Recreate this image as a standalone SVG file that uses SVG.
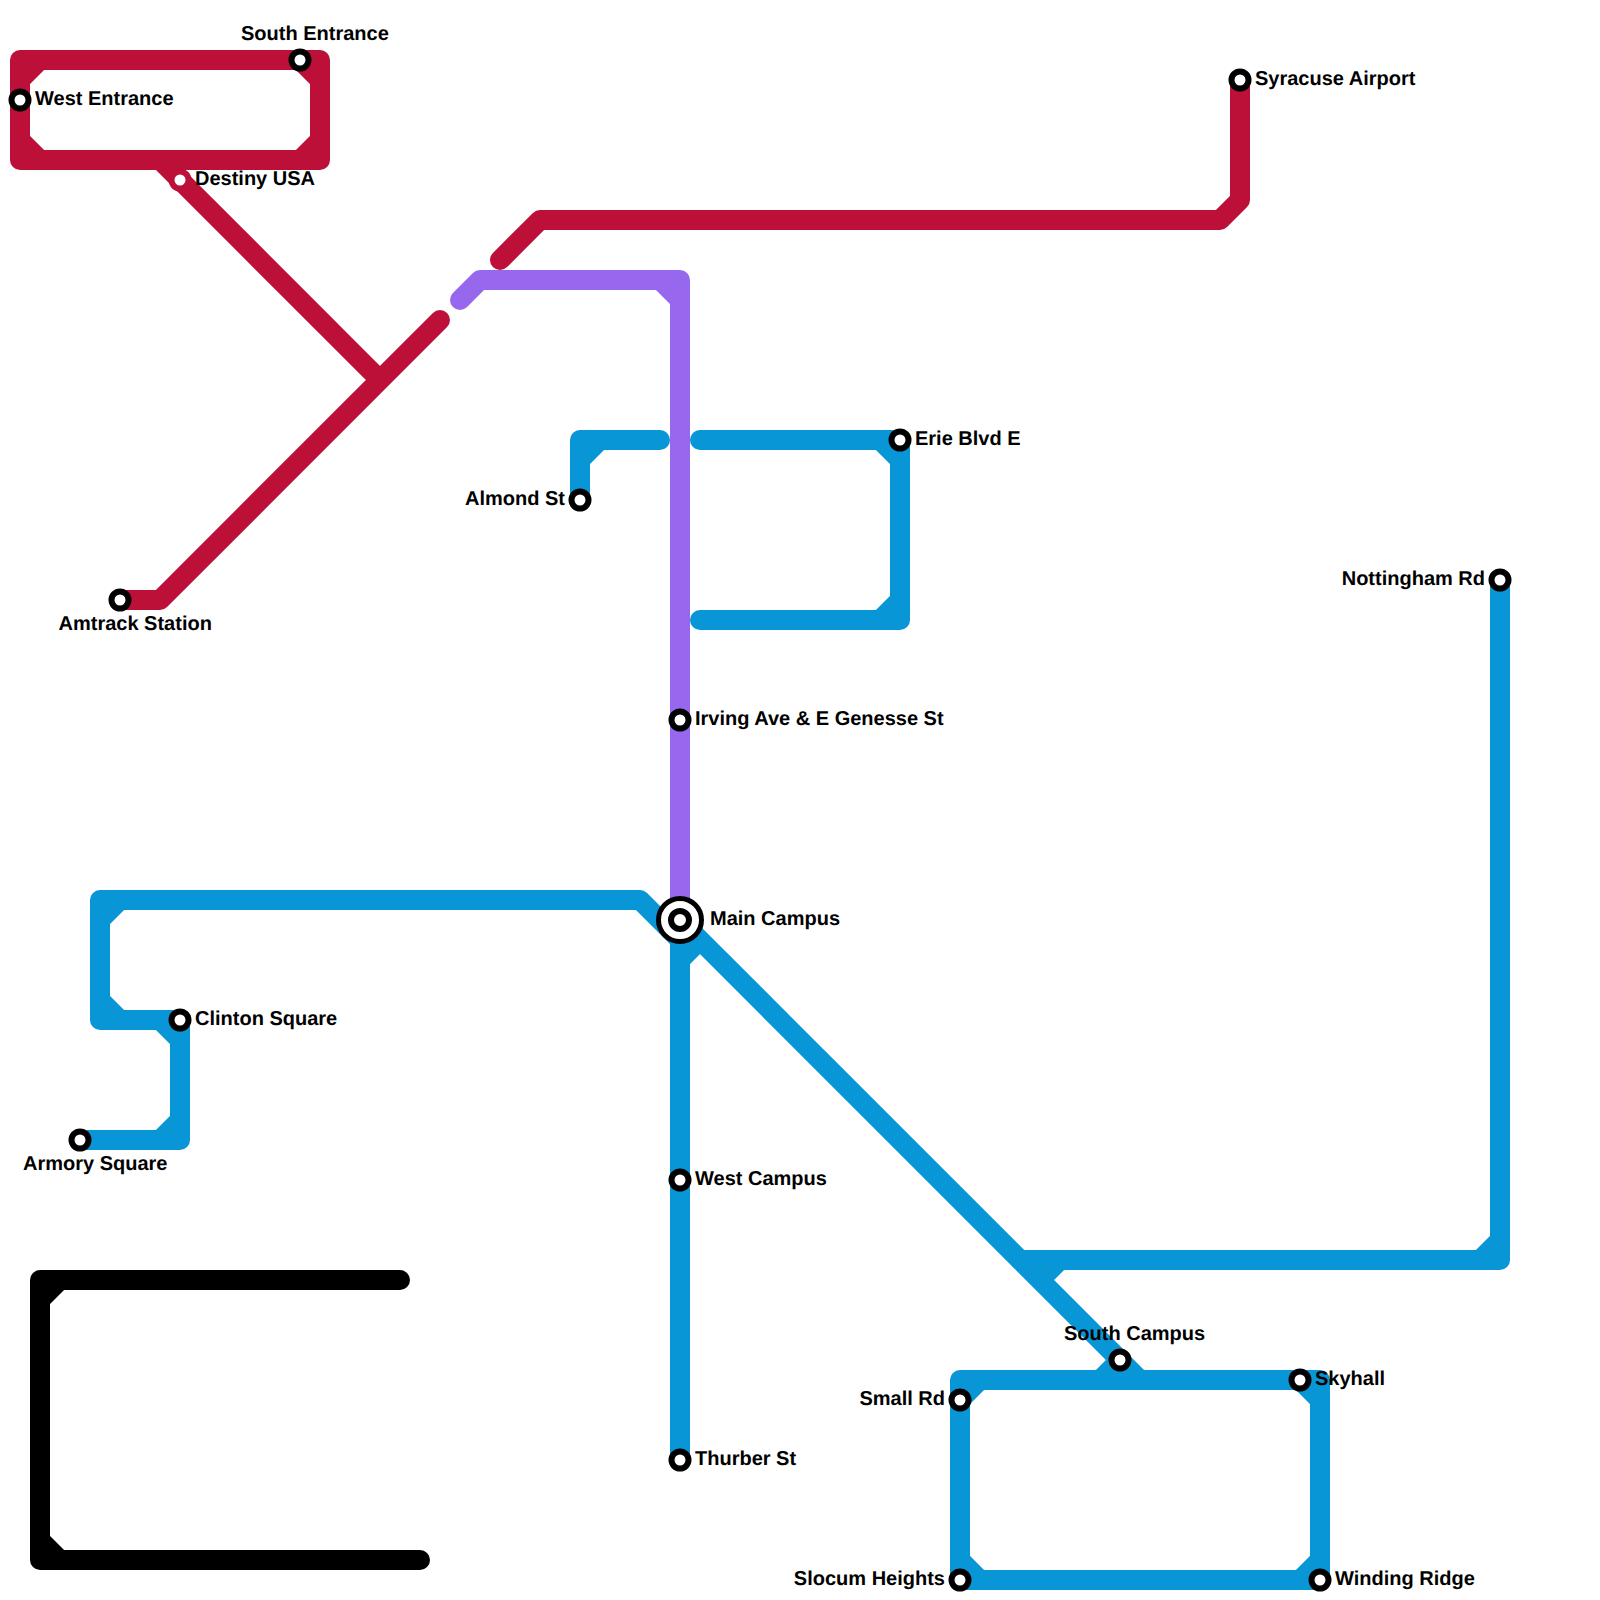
<svg xmlns="http://www.w3.org/2000/svg" width="1600" height="1600" viewBox="0 0 1600 1600">
<style>
.l{fill:none;stroke-width:20;stroke-linecap:round;stroke-linejoin:round}
.c{fill:none;stroke-width:20;stroke-linecap:butt}
.red{stroke:#bd1038}.blue{stroke:#0896d7}.pur{stroke:#9768ee}.blk{stroke:#000}
.s{fill:#fff;stroke:#000;stroke-width:6}
.t{font-family:"Liberation Sans",Arial,sans-serif;font-weight:700;font-size:20px;fill:#000;text-rendering:geometricPrecision}
.e{text-anchor:end}
</style>
<rect width="1600" height="1600" fill="#fff"/>
<g id="connectors">
<g id="line-red">
<path class="l red" d="M20 60H320V160H20Z"/>
<path class="c red" d="M20 80L40 60M20 140L40 160M300 60L320 80M300 160L320 140"/>
<path class="c red" d="M160 160L380 380"/>
<path class="l red" d="M120 600H160L440 320"/>
<path class="l red" d="M500 260L540 220H1220L1240 200V80"/>
</g>
<g id="line-purple">
<path class="l pur" d="M460 300L480 280H680V900"/>
<path class="c pur" d="M660 280L680 300"/>
</g>
<g id="line-blue">
<path class="l blue" d="M580 500V440H660"/>
<path class="c blue" d="M580 460L600 440"/>
<path class="l blue" d="M700 440H900V620H700"/>
<path class="c blue" d="M880 440L900 460M880 620L900 600"/>
<path class="l blue" d="M80 1140H180V1020H100V900H640L680 940V1460"/>
<path class="c blue" d="M160 1140L180 1120M160 1020L180 1040M100 1000L120 1020M100 920L120 900M680 960L700 940"/>
<path class="c blue" d="M680 920L1140 1380"/>
<path class="l blue" d="M1500 580V1260H1020"/>
<path class="c blue" d="M1480 1260L1500 1240M1040 1280L1060 1260"/>
<path class="l blue" d="M960 1380H1320V1580H960Z"/>
<path class="c blue" d="M960 1400L980 1380M1300 1380L1320 1400M960 1560L980 1580M1300 1580L1320 1560M1100 1380L1120 1360"/>
</g>
<g id="line-black">
<path class="l blk" d="M400 1280H40V1560H420"/>
<path class="c blk" d="M40 1300L60 1280M40 1540L60 1560"/>
</g>
</g>
<g id="st-west-entrance"><circle class="s" cx="20" cy="100" r="8.5"/><text class="t" x="35" y="104.5">West Entrance</text></g>
<g id="st-south-entrance"><circle class="s" cx="300" cy="60" r="8.5"/><text class="t" x="241" y="39.5">South Entrance</text></g>
<g id="st-destiny-usa"><circle cx="180" cy="180" r="8.5" fill="#fff" stroke="#bd1038" stroke-width="6"/><text class="t" x="195" y="184.5">Destiny USA</text></g>
<g id="st-syracuse-airport"><circle class="s" cx="1240" cy="80" r="8.5"/><text class="t" x="1255" y="84.5">Syracuse Airport</text></g>
<g id="st-amtrack"><circle class="s" cx="120" cy="600" r="8.5"/><text class="t" x="58.5" y="629.5">Amtrack Station</text></g>
<g id="st-almond"><circle class="s" cx="580" cy="500" r="8.5"/><text class="t e" x="565" y="504.5">Almond St</text></g>
<g id="st-erie"><circle class="s" cx="900" cy="440" r="8.5"/><text class="t" x="915" y="444.5">Erie Blvd E</text></g>
<g id="st-nottingham"><circle class="s" cx="1500" cy="580" r="8.5"/><text class="t e" x="1485" y="584.5">Nottingham Rd</text></g>
<g id="st-irving"><circle class="s" cx="680" cy="720" r="8.5"/><text class="t" x="695" y="724.5">Irving Ave &amp; E Genesse St</text></g>
<g id="st-main-campus"><circle cx="680" cy="920" r="21.5" fill="#fff" stroke="#000" stroke-width="5"/><circle cx="680" cy="920" r="9" fill="#fff" stroke="#000" stroke-width="6"/><text class="t" x="710" y="924.5">Main Campus</text></g>
<g id="st-clinton"><circle class="s" cx="180" cy="1020" r="8.5"/><text class="t" x="195" y="1024.5">Clinton Square</text></g>
<g id="st-armory"><circle class="s" cx="80" cy="1140" r="8.5"/><text class="t" x="23" y="1169.5">Armory Square</text></g>
<g id="st-west-campus"><circle class="s" cx="680" cy="1180" r="8.5"/><text class="t" x="695" y="1184.5">West Campus</text></g>
<g id="st-thurber"><circle class="s" cx="680" cy="1460" r="8.5"/><text class="t" x="695" y="1464.5">Thurber St</text></g>
<g id="st-south-campus"><circle class="s" cx="1120" cy="1360" r="8.5"/><text class="t" x="1064" y="1339.5">South Campus</text></g>
<g id="st-skyhall"><circle class="s" cx="1300" cy="1380" r="8.5"/><text class="t" x="1315" y="1384.5">Skyhall</text></g>
<g id="st-small-rd"><circle class="s" cx="960" cy="1400" r="8.5"/><text class="t e" x="945" y="1404.5">Small Rd</text></g>
<g id="st-slocum"><circle class="s" cx="960" cy="1580" r="8.5"/><text class="t e" x="945" y="1584.5">Slocum Heights</text></g>
<g id="st-winding"><circle class="s" cx="1320" cy="1580" r="8.5"/><text class="t" x="1335" y="1584.5">Winding Ridge</text></g>
</svg>
